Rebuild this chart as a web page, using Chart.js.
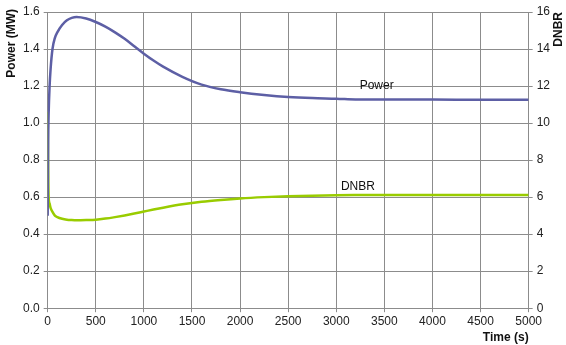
<!DOCTYPE html>
<html>
<head>
<meta charset="utf-8">
<script src="https://cdn.jsdelivr.net/npm/chart.js@4/dist/chart.umd.min.js"></script>
<style>
  body { margin: 0; background: #fff; }
  #wrap { width: 566px; height: 345px; }
</style>
</head>
<body>
<div id="wrap"><canvas id="mycanvas"></canvas></div>
<script>
// time points (s)
var timeS = [0, 5, 10, 20, 30, 50, 75, 100, 150, 200, 250, 300, 400, 500, 600, 700, 800, 900, 1000, 1100,
             1200, 1400, 1600, 1800, 2000, 2250, 2500, 2750, 3000, 3200, 3500, 4000, 4500, 5000];
// reactor power (MW), left axis
var powerMW = [0.5, 0.9, 1.05, 1.2, 1.29, 1.4, 1.46, 1.49, 1.53, 1.555, 1.568, 1.573, 1.565, 1.546, 1.521, 1.49, 1.455, 1.415, 1.375, 1.338,
               1.305, 1.25, 1.208, 1.183, 1.167, 1.152, 1.141, 1.135, 1.132, 1.128, 1.127, 1.127, 1.126, 1.126];
// DNBR, right axis
var dnbr = [10.6, 7.5, 6.0, 5.65, 5.42, 5.2, 5.0, 4.92, 4.83, 4.78, 4.76, 4.75, 4.76, 4.78, 4.84, 4.92, 5.01, 5.11, 5.22, 5.33,
            5.43, 5.61, 5.75, 5.85, 5.93, 6.0, 6.05, 6.08, 6.1, 6.11, 6.12, 6.12, 6.12, 6.12];

var xTicks = [0, 500, 1000, 1500, 2000, 2500, 3000, 3500, 4000, 4500, 5000];

// in-chart series labels (data coordinates)
var seriesLabels = [
    {text: "Power", x: 3420, y: 1.2, axis: "y"},
    {text: "DNBR", x: 3225, y: 6.55, axis: "y1"}
];

var powerPts = [];
var dnbrPts = [];
for (var i in timeS) {
    powerPts.push({x: timeS[i], y: powerMW[i]});
    dnbrPts.push({x: timeS[i], y: dnbr[i]});
}

var FONT = "'Liberation Sans', Arial, sans-serif";
var gridColor = "#8c8c8c";

var labelPlugin = {
    id: "seriesLabels",
    afterDatasetsDraw: function(chart) {
        var ctx = chart.ctx;
        var area = chart.chartArea;
        ctx.save();
        ctx.font = "12px " + FONT;
        ctx.fillStyle = "#111";
        ctx.textAlign = "center";
        ctx.textBaseline = "middle";
        seriesLabels.forEach(function(l) {
            ctx.fillText(l.text, chart.scales.x.getPixelForValue(l.x), chart.scales[l.axis].getPixelForValue(l.y));
        });

        // vertical axis titles, both reading upward, placed at the top
        ctx.font = "bold 12px " + FONT;
        ctx.textAlign = "right";
        ctx.save();
        ctx.translate(12, area.top - 3);
        ctx.rotate(-Math.PI / 2);
        ctx.fillText("Power (MW)", 0, 0);
        ctx.restore();
        ctx.save();
        ctx.translate(559, area.top);
        ctx.rotate(-Math.PI / 2);
        ctx.fillText("DNBR", 0, 0);
        ctx.restore();
        ctx.restore();
    }
};

var ctx = document.getElementById("mycanvas");
var LineGraph = new Chart(ctx, {
    type: "line",
    data: {
        datasets: [
            {
                label: "Power",
                data: powerPts,
                yAxisID: "y",
                borderColor: "#5d5fa5",
                borderWidth: 2.5,
                pointRadius: 0,
                fill: false,
                cubicInterpolationMode: "monotone"
            },
            {
                label: "DNBR",
                data: dnbrPts,
                yAxisID: "y1",
                borderColor: "#99cc00",
                borderWidth: 2.5,
                pointRadius: 0,
                fill: false,
                cubicInterpolationMode: "monotone"
            }
        ]
    },
    options: {
        responsive: true,
        maintainAspectRatio: false,
        animation: false,
        layout: {padding: {top: 12, left: 19, right: 12, bottom: 0}},
        plugins: {legend: {display: false}, tooltip: {enabled: false}},
        scales: {
            x: {
                type: "linear",
                min: 0,
                max: 5000,
                afterBuildTicks: function(axis) {
                    axis.ticks = xTicks.map(function(v) { return {value: v}; });
                },
                grid: {color: gridColor, tickLength: 4},
                border: {color: gridColor},
                ticks: {color: "#222", font: {family: FONT, size: 12}, maxRotation: 0, padding: 2,
                        callback: function(v) { return String(v); }},
                title: {display: true, text: "Time (s)", align: "end", color: "#111",
                        font: {family: FONT, size: 12, weight: "bold"}, padding: {top: 0, bottom: 0}}
            },
            y: {
                position: "left",
                min: 0,
                max: 1.6,
                ticks: {stepSize: 0.2, color: "#222", font: {family: FONT, size: 12}, padding: 4,
                        callback: function(v) { return v.toFixed(1); }},
                grid: {color: gridColor, tickLength: 4},
                border: {color: gridColor}
            },
            y1: {
                position: "right",
                min: 0,
                max: 16,
                ticks: {stepSize: 2, color: "#222", font: {family: FONT, size: 12}, padding: 4},
                grid: {drawOnChartArea: false, color: gridColor, tickLength: 4},
                border: {color: gridColor}
            }
        }
    },
    plugins: [labelPlugin]
});
</script>
</body>
</html>
